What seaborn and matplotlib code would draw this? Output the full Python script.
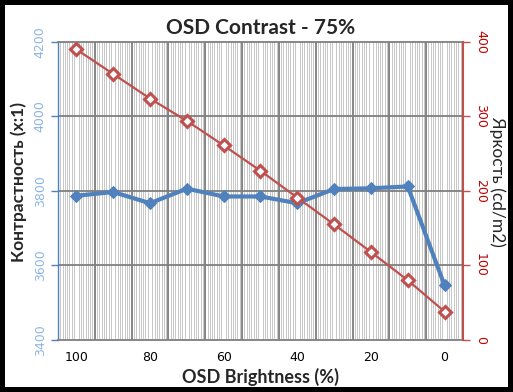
import numpy as np
import pandas as pd
import matplotlib
matplotlib.use("Agg")
import matplotlib.pyplot as plt
import seaborn as sns

brightness_pct = [100, 90, 80, 70, 60, 50, 40, 30, 20, 10, 0]
contrast = [3787, 3797, 3767, 3806, 3785, 3785, 3767, 3805, 3807, 3812, 3546]
luminance = [390, 357, 324, 294, 261, 227, 191, 155, 118, 80, 38]
x_labels = ["100", "", "80", "", "60", "", "40", "", "20", "", "0"]
left_ticks = [3400, 3600, 3800, 4000, 4200]
right_ticks = [0, 100, 200, 300, 400]

title = "OSD Contrast - 75%"
xlabel = "OSD Brightness (%)"
ylabel_left = "Контрастность (x:1)"
ylabel_right = "Яркость (cd/m2)"

sns.set_style("white")
plt.rcParams["font.family"] = ["DejaVu Sans"]
lab_font = ["Lato", "DejaVu Sans"]

df = pd.DataFrame({"b": brightness_pct, "c": contrast, "l": luminance})

fig = plt.figure(figsize=(5.13, 3.92), dpi=100)
fig.patch.set_facecolor("white")
fig.patch.set_edgecolor("black")
fig.patch.set_linewidth(6)

ax = fig.add_axes([0.113, 0.133, 0.7895, 0.76])
ax2 = ax.twinx()

blue = "#4F81BD"
red = "#C0504D"

# background grid
ax.set_xlim(105, -5)
ax.set_ylim(3400, 4200)
minor = np.arange(-5, 105.01, 10 / 16)
ax.set_xticks(minor, minor=True)
ax.grid(which="minor", axis="x", color="#C8C8C8", linewidth=0.72,
        antialiased=False)
ax.tick_params(axis="x", which="minor", length=0)
for xv in np.arange(95, 0, -10):
    ax.axvline(xv, color="#7F7F7F", linewidth=1.3, zorder=1)
for yv in left_ticks[1:-1]:
    ax.axhline(yv, color="#7F7F7F", linewidth=1.3, zorder=1)

sns.lineplot(data=df, x="b", y="c", ax=ax, color=blue, linewidth=3,
             marker="D", markersize=6, markeredgecolor=blue, zorder=3)
sns.lineplot(data=df, x="b", y="l", ax=ax2, color=red, linewidth=1.6,
             marker="D", markersize=6.5, markerfacecolor="white",
             markeredgecolor=red, markeredgewidth=2.2, zorder=3)

ax.set_xticks(brightness_pct)
ax.set_xticklabels(x_labels, fontsize=9, color="black")
ax.tick_params(axis="x", which="major", direction="in", length=4, width=1.5,
               color="#7F7F7F", pad=8)

ax.set_yticks(left_ticks)
ax.set_yticklabels([str(v) for v in left_ticks], rotation=90, va="center",
                   fontsize=9, color="#8EB4E3")
ax.tick_params(axis="y", which="major", direction="out", length=5, width=1,
               color=blue, pad=3, left=True)

ax2.set_ylim(0, 400)
ax2.set_yticks(right_ticks)
ax2.set_yticklabels([str(v) for v in right_ticks], rotation=-90, va="center",
                    fontsize=9, color="#C00000")
ax2.tick_params(axis="y", which="major", direction="out", length=5, width=1,
                color=red, pad=3, right=True)

for s in ["top", "bottom"]:
    ax.spines[s].set_color("#7F7F7F")
    ax.spines[s].set_linewidth(1.3)
    ax2.spines[s].set_visible(False)
ax.spines["left"].set_color(blue)
ax.spines["left"].set_linewidth(1)
ax.spines["right"].set_visible(False)
ax2.spines["left"].set_visible(False)
ax2.spines["right"].set_color(red)
ax2.spines["right"].set_linewidth(1.5)

ax.set_xlabel(xlabel, fontsize=13, fontweight="bold", labelpad=3, family=lab_font)
ax.set_ylabel(ylabel_left, fontsize=12.5, fontweight="bold", family=lab_font,
              va="center", ha="center")
ax.yaxis.set_label_coords(-0.096, 0.53)
ax2.set_ylabel(ylabel_right, fontsize=12.5, rotation=270, family=lab_font,
               va="center", ha="center")
ax2.yaxis.set_label_coords(1.085, 0.53)
ax.set_title(title, fontsize=15, fontweight="bold", pad=6, family=lab_font)

fig.savefig("out.png", dpi=100, facecolor=fig.get_facecolor(),
            edgecolor=fig.get_edgecolor())
